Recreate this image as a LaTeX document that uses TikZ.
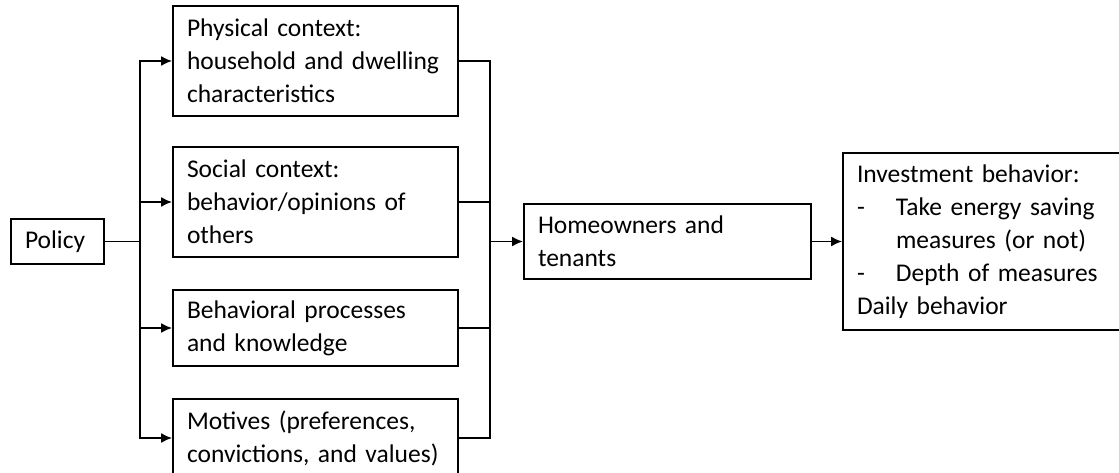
\documentclass[tikz,border=0pt]{standalone}
\usepackage{fontspec}
\setmainfont{Carlito}
\usetikzlibrary{arrows.meta}
\hyphenpenalty=10000

\begin{document}
\begin{tikzpicture}[
        x={(1pt,0pt)}, y={(0pt,-1pt)},
        box/.style={shape=rectangle, draw, line width=1.8pt, inner xsep=14pt, inner ysep=0pt,
          text width=257pt, minimum width=285pt, align=left,
          font=\fontsize{25.5}{33}\selectfont},
        line/.style={line width=1.8pt},
        arrow/.style={line width=1.8pt, -{Latex[length=11pt,width=10pt]}},
        ]
        \useasboundingbox (0,0) rectangle (1119,473);
        %
        \node(policy) [box, text width=65pt, minimum width=93pt, minimum height=45pt] at (57.5,241.5) {Policy};
        \node(phys)   [box, minimum height=110pt] at (315.5,61)  {Physical context:\\household and dwelling\\characteristics};
        \node(social) [box, minimum height=110pt] at (315.5,202) {Social context:\\behavior/opinions of\\others};
        \node(behav)  [box, minimum height=76pt]  at (315.5,328) {Behavioral processes\\and knowledge};
        \node(motive) [box, minimum height=78pt]  at (315.5,438) {Motives (preferences,\\convictions, and values)};
        \node(home)   [box, text width=259pt, minimum width=287pt, minimum height=75pt] at (667.5,241.5) {Homeowners and\\tenants};
        \node(invest) [box, minimum height=177pt] at (985.5,241.5) {Investment behavior:\\
          \makebox[39pt][l]{-}Take energy saving\\
          \hspace*{39pt}measures (or not)\\
          \makebox[39pt][l]{-}Depth of measures\\
          Daily behavior};
        \coordinate(split) at (140,241.5);
        \coordinate(join)  at (490,241.5);
        
        \draw[line](policy)--(split);
        \foreach \n in {phys,social,behav,motive}{
          \draw[arrow](split)|-(\n.west);
          \draw[line](\n.east)-|(join);
        }
        \draw[arrow](join)--(home);
        \draw[arrow](home)--(invest);
      \end{tikzpicture}
\end{document}
